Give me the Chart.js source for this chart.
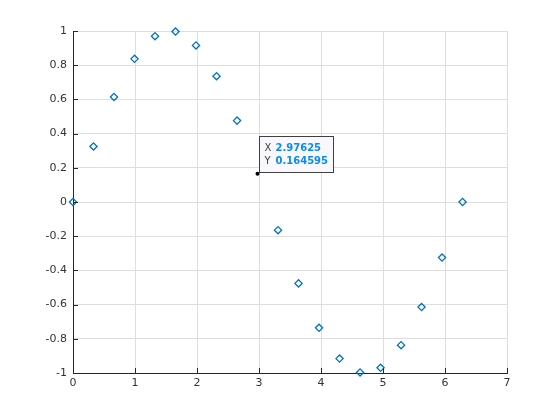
<!DOCTYPE html>
<html><head><meta charset="utf-8">
<script src="https://cdn.jsdelivr.net/npm/chart.js@4"></script>
<style>html,body{margin:0;padding:0;background:#fff}#wrap{width:560px;height:420px}</style>
</head><body><div id="wrap"><canvas id="c" width="560" height="420"></canvas></div>
<script>
const xValues = [0, 0.3307, 0.6614, 0.9921, 1.3228, 1.6535, 1.9842, 2.3149, 2.6456, 2.97625, 3.3069, 3.6376, 3.9683, 4.2990, 4.6297, 4.9604, 5.2911, 5.6218, 5.9525, 6.2832];
const yValues = [0, 0.3247, 0.6142, 0.8372, 0.9694, 0.9966, 0.9158, 0.7357, 0.4759, 0.164595, -0.1646, -0.4759, -0.7357, -0.9158, -0.9966, -0.9694, -0.8372, -0.6142, -0.3247, 0];
const xTicks = [0, 1, 2, 3, 4, 5, 6, 7];
const yTicks = [-1, -0.8, -0.6, -0.4, -0.2, 0, 0.2, 0.4, 0.6, 0.8, 1];
const tipX = 2.97625, tipY = 0.164595;
const tipIndex = 9;

const points = xValues.map((x, i) => ({x, y: yValues[i]}));
const FONT = "'DejaVu Sans', sans-serif";

const tickPlugin = {
  id: 'ticksIn',
  afterDraw(chart) {
    const {ctx, chartArea: a, scales: {x, y}} = chart;
    ctx.save();
    ctx.strokeStyle = '#262626';
    ctx.lineWidth = 1;
    ctx.beginPath();
    xTicks.forEach(v => { const px = Math.round(x.getPixelForValue(v)) + 0.5; ctx.moveTo(px, a.bottom); ctx.lineTo(px, a.bottom - 5); });
    yTicks.forEach(v => { const py = Math.round(y.getPixelForValue(v)) + 0.5; ctx.moveTo(a.left, py); ctx.lineTo(a.left + 5, py); });
    ctx.stroke();
    const px = x.getPixelForValue(tipX), py = y.getPixelForValue(tipY);
    ctx.fillStyle = '#000';
    ctx.beginPath(); ctx.arc(px, py, 2, 0, Math.PI * 2); ctx.fill();
    const bx = Math.round(px) + 1.5, by = Math.round(py) - 37.5, bw = 74, bh = 36;
    ctx.fillStyle = '#f8f8fc';
    ctx.strokeStyle = '#404040';
    ctx.fillRect(bx, by, bw, bh);
    ctx.strokeRect(bx, by, bw, bh);
    ctx.textBaseline = 'middle';
    ctx.textAlign = 'left';
    ctx.font = "10px " + FONT;
    ctx.fillStyle = '#404040';
    ctx.fillText('X', bx + 5, by + 11.5);
    ctx.fillText('Y', bx + 5, by + 24.5);
    ctx.font = "bold 10px " + FONT;
    ctx.fillStyle = '#0a8cf0';
    ctx.fillText(String(tipX), bx + 16, by + 11.5);
    ctx.fillText(String(tipY), bx + 16, by + 24.5);
    ctx.restore();
  }
};

new Chart(document.getElementById('c'), {
  type: 'scatter',
  data: { datasets: [{
    data: points,
    clip: false,
    pointStyle: 'rectRot',
    pointRadius: ctx => ctx.dataIndex === tipIndex ? 0 : 3.6,
    pointBorderWidth: 1.3,
    borderColor: '#0072BD',
    backgroundColor: 'rgba(0,0,0,0)',
    pointHoverRadius: 3.6
  }]},
  options: {
    responsive: false,
    animation: false,
    events: [],
    layout: { padding: { left: 0, right: 53, top: 31, bottom: 0 } },
    plugins: { legend: { display: false }, tooltip: { enabled: false } },
    scales: {
      x: {
        type: 'linear', min: 0, max: 7,
        afterBuildTicks: s => { s.ticks = xTicks.map(v => ({value: v})); },
        afterFit: s => { s.height = 47; },
        ticks: { color: '#333333', font: { family: FONT, size: 11 }, padding: 4, maxRotation: 0 },
        grid: { color: '#dedede', drawTicks: false, lineWidth: 1 },
        border: { color: '#262626', width: 1 }
      },
      y: {
        type: 'linear', min: -1, max: 1,
        afterBuildTicks: s => { s.ticks = yTicks.map(v => ({value: v})); },
        afterFit: s => { s.width = 73; },
        ticks: { color: '#333333', font: { family: FONT, size: 11 }, padding: 6,
          callback: v => String(Math.round(v * 10) / 10) },
        grid: { color: '#dedede', drawTicks: false, lineWidth: 1 },
        border: { color: '#262626', width: 1 }
      }
    }
  },
  plugins: [tickPlugin]
});
</script></body></html>
